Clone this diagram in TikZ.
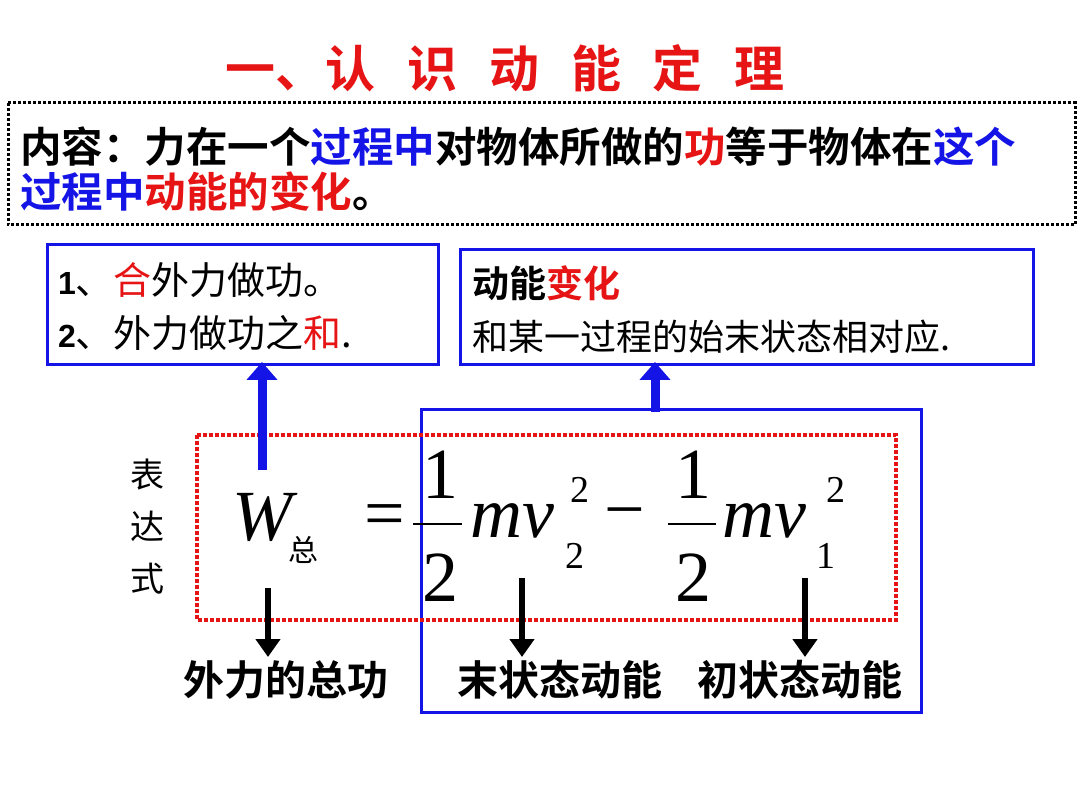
\documentclass[tikz,border=0pt]{standalone}
\usepackage{fontspec}
\setmainfont{Liberation Serif}
\newfontfamily\cjk{Noto Sans CJK SC}
\newfontfamily\cjkb{Noto Sans CJK SC Bold}
\newfontfamily\arl{Liberation Sans}
\newfontfamily\tim{Liberation Serif}
\definecolor{myred}{RGB}{230,20,20}
\definecolor{myblue}{RGB}{20,20,230}
\usetikzlibrary{arrows.meta}
\begin{document}
\begin{tikzpicture}[x=1pt,y=-1pt,
  bbox/.style={draw=myblue,line width=3pt},
  uparr/.style={myblue,line width=9pt,-{Triangle[length=18pt,width=30pt]}},
  dnarr/.style={black,line width=6pt,-{Triangle[length=18pt,width=24pt]}},
  lbl/.style={font=\fontsize{41}{44}\selectfont\cjkb,inner sep=0pt},
  big/.style={inner sep=0,font=\fontsize{72}{72}\selectfont\tim},
  sm/.style={inner sep=0,font=\fontsize{38}{38}\selectfont\tim}]
\useasboundingbox (0,0) rectangle (1080,810);
\node[inner sep=0,text=myred,font=\fontsize{50}{56}\selectfont\cjkb] (title) at (505,68) {一、认\hspace{32pt}识\hspace{32pt}动\hspace{32pt}能\hspace{32pt}定\hspace{32pt}理};
\draw[line width=3pt,dotted] (8,103) rectangle (1075,225);
\node[inner sep=0,anchor=west,font=\fontsize{41.5}{44}\selectfont\cjkb] (l1) at (20,147) {内容：力在一个\textcolor{myblue}{过程中}对物体所做的\textcolor{myred}{功}等于物体在\textcolor{myblue}{这个}};
\node[inner sep=0,anchor=west,font=\fontsize{41.5}{44}\selectfont\cjkb] (l2) at (20,192) {\textcolor{myblue}{过程中}\textcolor{myred}{动能的变化}。};
\draw[bbox] (47,245) rectangle (438,365);
\node[inner sep=0,anchor=west,font=\fontsize{38}{40}\selectfont\cjk] (b1) at (58,280) {{\arl\bfseries\fontsize{32}{36}\selectfont 1}、\textcolor{myred}{合}外力做功。};
\node[inner sep=0,anchor=west,font=\fontsize{38}{40}\selectfont\cjk] (b2) at (58,333) {{\arl\bfseries\fontsize{32}{36}\selectfont 2}、外力做功之\textcolor{myred}{和}.};
\draw[bbox] (460,250) rectangle (1033,365);
\node[inner sep=0,anchor=west,font=\fontsize{37}{38}\selectfont\cjkb] (c1) at (472,283) {动能\textcolor{myred}{变化}};
\node[inner sep=0,anchor=west,font=\fontsize{36}{38}\selectfont\cjk] (c2) at (472,337) {和某一过程的始末状态相对应.};
\draw[bbox] (421,410) rectangle (921,712);
\draw[myred,line width=4pt,dotted] (197,435) rectangle (896,620);
\node[inner sep=0,font=\fontsize{34}{52}\selectfont\cjk,align=center] (v) at (147,527) {表\\达\\式};
\coordinate (a1s) at (262,470); \coordinate (a1e) at (262,362);
\draw[uparr] (a1s) -- (a1e);
\coordinate (a2s) at (655,412); \coordinate (a2e) at (655,362);
\draw[uparr] (a2s) -- (a2e);
% formula
\node[big] (W) at (262,517) {\itshape W};
\node[inner sep=0,font=\fontsize{30}{30}\selectfont\cjk] (zong) at (303,550) {总};
\node[big] (eq) at (385,521) {=};
\node[big] (n1) at (440,475) {1};
\node[big] (d1n) at (440,578) {2};
\draw[line width=2.5pt] (413,524) -- (462,524);
\node[big] (mv1) at (512,521) {\itshape mv};
\node[sm] (s1) at (575,556) {2};
\node[sm] (p1) at (580,490) {2};
\node[big] (mn) at (625,521) {−};
\node[big] (n2) at (693,475) {1};
\node[big] (d2n) at (693,578) {2};
\draw[line width=2.5pt] (668,524) -- (716,524);
\node[big] (mv2) at (764,521) {\itshape mv};
\node[sm] (s2) at (826,556) {1};
\node[sm] (p2) at (836,490) {2};
\coordinate (d1) at (268,588); \coordinate (e1) at (268,657);
\coordinate (d2) at (522,578); \coordinate (e2) at (522,657);
\coordinate (d3) at (805,578); \coordinate (e3) at (805,657);
\draw[dnarr] (d1) -- (e1); \draw[dnarr] (d2) -- (e2); \draw[dnarr] (d3) -- (e3);
\node[lbl] (t1) at (286,680) {外力的总功};
\node[lbl] (t2) at (560,680) {末状态动能};
\node[lbl] (t3) at (800,680) {初状态动能};
\end{tikzpicture}
\end{document}
